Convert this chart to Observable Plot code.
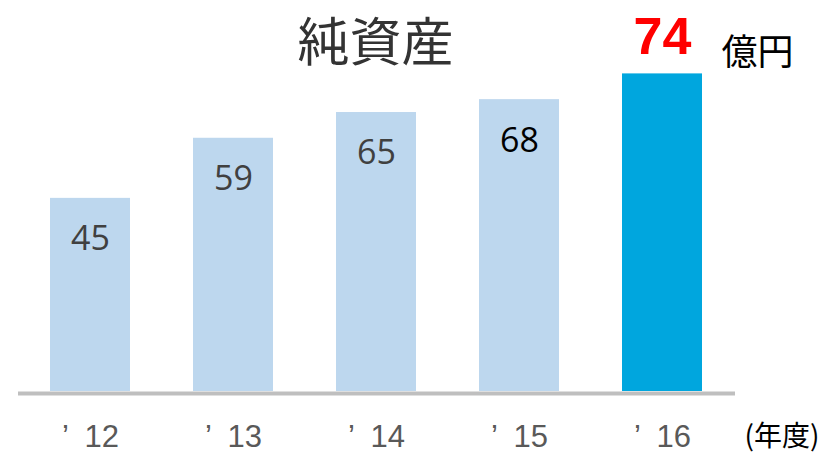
<!DOCTYPE html>
<html>
<head>
<meta charset="utf-8">
<script src="https://cdn.jsdelivr.net/npm/d3@7"></script>
<script src="https://cdn.jsdelivr.net/npm/@observablehq/plot@0.6"></script>
<style>
  html, body { margin: 0; padding: 0; background: #fff; }
  svg { display: block; }
</style>
</head>
<body>
<div id="chart"></div>
<script>
const years = ["12", "13", "14", "15", "16"];
const values = [45, 59, 65, 68, 74];
const labelColors = ["#404040", "#404040", "#404040", "#000000", "#ff0000"];
const barColors = ["#bdd7ee", "#bdd7ee", "#bdd7ee", "#bdd7ee", "#00a6de"];
const title = "純資産";
const unit = "億円";
const yearUnit = "(年度)";

const data = years.map((y, i) => ({year: y, value: values[i], barColor: barColors[i], labelColor: labelColors[i], highlight: i === years.length - 1}));

const jp = "'Noto Sans CJK JP', sans-serif";

const chart = Plot.plot({
  width: 832,
  height: 455,
  marginTop: 0,
  marginBottom: 64,
  marginLeft: 18,
  marginRight: 97,
  style: {background: "#fff", overflow: "visible"},
  x: {domain: years, range: [18.5, 733.5], paddingInner: 0.44, paddingOuter: 0.22, axis: null},
  y: {domain: [0, 91.1], axis: null},
  marks: [
    Plot.barY(data, {x: "year", y: "value", fill: d => d.barColor}),
    Plot.ruleY([0], {stroke: "#bfbfbf", strokeWidth: 4, dy: 2}),
    Plot.text(data.filter(d => !d.highlight), {x: "year", y: "value", text: d => String(d.value), dy: 41, fontSize: 34, fill: d => d.labelColor, fontFamily: "'Open Sans', sans-serif"}),
    Plot.text(data.filter(d => d.highlight), {x: "year", y: "value", text: d => String(d.value), dy: -37, fontSize: 52, fontWeight: "bold", fill: d => d.labelColor, fontFamily: "'Liberation Sans', Arial, sans-serif"}),
    Plot.text(data, {x: "year", y: 0, text: d => "’\u2002" + d.year, dy: 46, fontSize: 31, fill: "#595959", fontFamily: "'Liberation Sans Narrow', 'Liberation Sans', Arial, sans-serif"}),
    Plot.text([title], {frameAnchor: "top-left", lineAnchor: "middle", dx: 357, dy: 44, fontSize: 52, fill: "#333333", fontFamily: jp, textAnchor: "middle"}),
    Plot.text([unit], {frameAnchor: "top-left", lineAnchor: "middle", dx: 739, dy: 53, fontSize: 36, fill: "#000000", fontFamily: jp, textAnchor: "middle"}),
    Plot.text([yearUnit], {frameAnchor: "top-left", lineAnchor: "middle", dx: 726, dy: 437, fontSize: 28, fill: "#000000", fontFamily: jp, textAnchor: "start"})
  ]
});
document.getElementById("chart").appendChild(chart);
</script>
</body>
</html>
